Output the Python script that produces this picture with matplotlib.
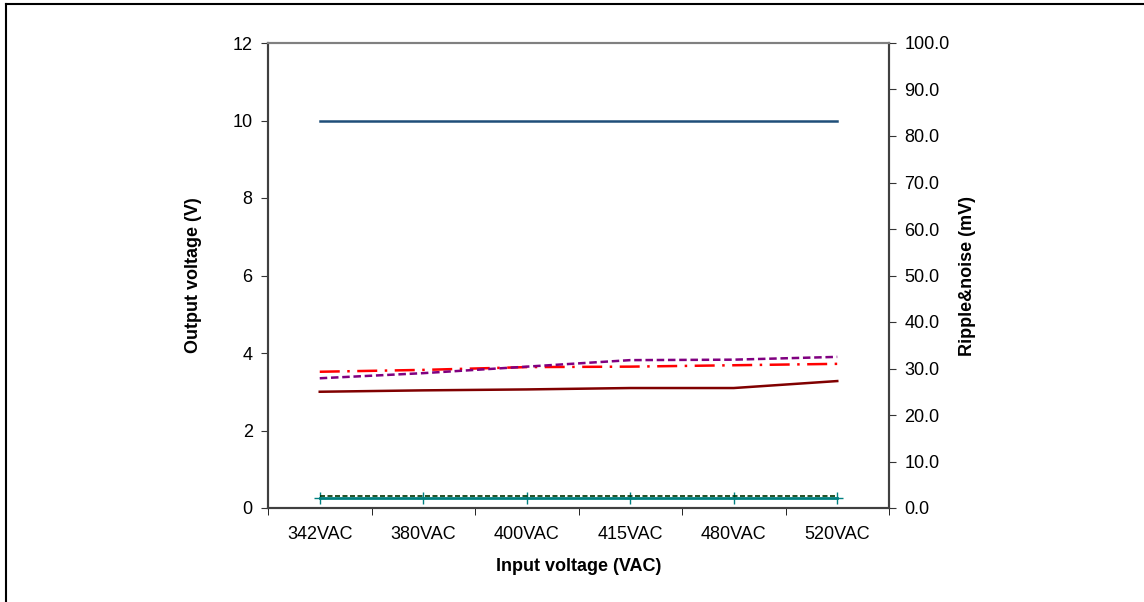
import matplotlib.pyplot as plt
import matplotlib.lines as mlines

plt.rcParams['font.family'] = ['Liberation Sans', 'DejaVu Sans']

# data
inputs = ['342VAC', '380VAC', '400VAC', '415VAC', '480VAC', '520VAC']
vout = [10.0, 10.0, 10.0, 10.0, 10.0, 10.0]
ripple_a = [25.0, 25.3, 25.5, 25.8, 25.8, 27.3]
ripple_b = [29.3, 29.7, 30.3, 30.4, 30.7, 31.0]
ripple_c = [27.9, 29.0, 30.4, 31.8, 31.9, 32.5]
ripple_d = [2.2, 2.2, 2.2, 2.2, 2.2, 2.2]
ripple_e = [2.6, 2.6, 2.6, 2.6, 2.6, 2.6]

fig = plt.figure(figsize=(11.44, 6.02), dpi=100)
ax = fig.add_axes([268/1144, 1-508/602, (889-268)/1144, (508-43)/602])
ax2 = ax.twinx()

x = list(range(len(inputs)))
ax.plot(x, vout, color='#1F4E79', lw=1.8)
ax2.plot(x, ripple_a, color='#800000', lw=1.8)
ax2.plot(x, ripple_b, color='#FF0000', lw=1.8, ls=(0, (8, 3, 1, 3)))
ax2.plot(x, ripple_c, color='#800080', lw=1.8, ls=(0, (3, 1.5)))
ax2.plot(x, ripple_d, color='#008080', lw=2, marker='+', ms=9, mew=1)
ax2.plot(x, ripple_e, color='#003300', lw=1.2, ls=(0, (3, 1.5)))

ax.set_xlim(-0.5, 5.5)
ax.set_ylim(0, 12)
ax.set_yticks(range(0, 13, 2))
ax2.set_ylim(0, 100)
ax2.set_yticks(range(0, 101, 10))
ax2.set_yticklabels(['%.1f' % v for v in range(0, 101, 10)])

ax.set_xticks(x)
ax.set_xticklabels(inputs)
ax.set_xticks([i - 0.5 for i in range(7)], minor=True)
ax.tick_params(axis='x', which='major', length=0, labelsize=13, pad=13)
ax.tick_params(axis='x', which='minor', length=5, direction='out', color='black')
ax.tick_params(axis='y', labelsize=13, length=5, direction='out', color='#333333', pad=6)
ax2.tick_params(axis='y', labelsize=13, length=5, direction='out', color='#333333', pad=6)

for a in (ax, ax2):
    a.spines['left'].set_color('#404040')
    a.spines['right'].set_color('#404040')
    a.spines['bottom'].set_color('#404040')
    a.spines['top'].set_color('#808080')
    for s in a.spines.values():
        s.set_linewidth(1.5)

ax.set_xlabel('Input voltage (VAC)', fontsize=13, fontweight='bold', labelpad=11)
ax.set_ylabel('Output voltage (V)', fontsize=13, fontweight='bold', labelpad=22)
ax2.set_ylabel('Ripple&noise (mV)', fontsize=13, fontweight='bold', labelpad=7)

# figure border (left and top visible)
fig.add_artist(mlines.Line2D([6/1144, 6/1144], [0, 1-4/602], color='black', lw=1.5))
fig.add_artist(mlines.Line2D([6/1144, 1], [1-4/602, 1-4/602], color='black', lw=1.5))

fig.savefig('out.png', dpi=100)
